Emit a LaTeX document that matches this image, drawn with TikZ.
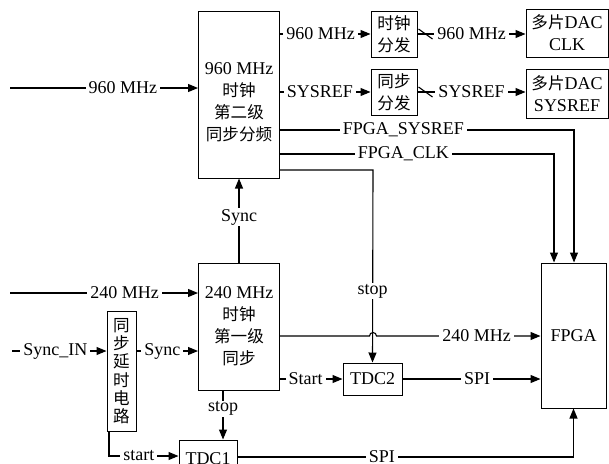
\documentclass[tikz,border=0pt]{standalone}
\usepackage{fontspec}
\setmainfont{Liberation Serif}
\newfontfamily\cjk[Scale=0.92]{Noto Sans CJK SC}
\usetikzlibrary{positioning,arrows.meta}

\begin{document}
\begin{tikzpicture}[x=1pt,y=-1pt,font=\fontsize{18}{22}\selectfont,
  blk/.style={draw,line width=1pt,align=center,inner sep=0pt},
  lbl/.style={fill=white,inner xsep=3pt,inner ysep=1pt},
  arr/.style={-{Triangle[length=10pt,width=8pt]},line width=1.1pt},
  ln/.style={line width=1.1pt}]
\useasboundingbox (0,0) rectangle (609,463);
% blocks
\node[blk,minimum width=81pt,minimum height=167pt,
  label={[align=center,yshift=-8pt]center:960 MHz\\{\cjk 时钟}\\{\cjk 第二级}\\{\cjk 同步分频}}] (div2) at (239,94.5) {};
\node[blk,minimum width=81pt,minimum height=127pt] (sync1) at (239,326.5) {240 MHz\\{\cjk 时钟}\\{\cjk 第一级}\\{\cjk 同步}};
\node[blk,minimum width=46pt,minimum height=46pt] (clkdist) at (394,34) {\cjk 时钟\\\cjk 分发};
\node[blk,minimum width=46pt,minimum height=46pt] (sysdist) at (394,92) {\cjk 同步\\\cjk 分发};
\node[blk,minimum width=82pt,minimum height=48pt] (dacclk) at (567,33) {{\cjk 多片}DAC\\CLK};
\node[blk,minimum width=82pt,minimum height=49pt] (dacsys) at (567,93.5) {{\cjk 多片}DAC\\SYSREF};
\node[blk,minimum width=65pt,minimum height=145pt] (fpga) at (573.5,335.5) {FPGA};
\node[blk,minimum width=59pt,minimum height=32pt] (tdc2) at (372.5,379) {TDC2};
\node[blk,minimum width=58pt,minimum height=38pt] (tdc1) at (208,459) {TDC1};
\node[blk,minimum width=29pt,minimum height=120pt,font=\fontsize{18}{18.3}\selectfont\cjk] (delay) at (121.5,371) {同\\步\\延\\时\\电\\路};
% free ends and bends
\coordinate (in960) at (10,88);
\coordinate (in240) at (10,293);
\coordinate (syncin) at (12,351);
\coordinate (bsys) at (574,130);
\coordinate (bclk) at (554,154);
\coordinate (bstop) at (373,170);
\coordinate (hop) at (373,336);
\coordinate (bstart) at (109,456);
\coordinate (bspi) at (573.5,457);
% inputs
\draw[arr] (in960) -- node[lbl,pos=.6]{960 MHz} (in960 -| div2.west);
\draw[arr] (in240) -- node[lbl,pos=.61]{240 MHz} (in240 -| sync1.west);
\draw[arr] (syncin) -- node[lbl,pos=.46]{Sync\_IN} (syncin -| delay.west);
\draw[arr] (delay.east |- syncin) -- node[lbl,pos=.42]{Sync} (syncin -| sync1.west);
% second stage outputs
\draw[arr] (div2.east |- clkdist) -- node[lbl,pos=.45]{960 MHz} (clkdist.west);
\draw[arr] (clkdist.east) -- node[lbl,pos=.5]{960 MHz} (dacclk.west |- clkdist);
\draw[ln] ([xshift=8pt]clkdist.east) ++(-7pt,5pt) -- ++(14pt,-10pt);
\draw[arr] (div2.east |- sysdist) -- node[lbl,pos=.44]{SYSREF} (sysdist.west);
\draw[arr] (sysdist.east) -- node[lbl,pos=.5]{SYSREF} (dacsys.west |- sysdist);
\draw[ln] ([xshift=8pt]sysdist.east) ++(-7pt,5pt) -- ++(14pt,-10pt);
\draw[arr] (div2.east |- bsys) -- node[lbl,pos=.42]{FPGA\_SYSREF} (bsys) -- (bsys |- fpga.north);
\draw[arr] (div2.east |- bclk) -- node[lbl,pos=.45]{FPGA\_CLK} (bclk) -- (bclk |- fpga.north);
\draw[arr] (div2.east |- bstop) -- (bstop) -- node[lbl,pos=.63]{stop} (tdc2.north);
% first stage
\draw[arr] (sync1.north) -- node[lbl,pos=.54]{Sync} (div2.south);
\draw[arr] (sync1.east |- hop) -- ([xshift=-3.5pt]hop) arc[start angle=180,end angle=0,radius=3.5pt]
  -- node[lbl,pos=.61]{240 MHz} (hop -| fpga.west);
\draw[arr] (sync1.east |- tdc2) -- node[lbl,pos=.41]{Start} (tdc2.west);
\draw[arr] (tdc2.east) -- node[lbl,pos=.54]{SPI} (tdc2 -| fpga.west);
\draw[arr] ([xshift=-16pt]sync1.south) -- node[lbl,pos=.37]{stop} ([xshift=-16pt]sync1.south |- tdc1.north);
\draw[arr] (bstart |- delay.south) -- (bstart) -- node[lbl,pos=.43]{start} (bstart -| tdc1.west);
\draw[arr] (tdc1.east |- bspi) -- node[lbl,pos=.43]{SPI} (bspi) -- (bspi |- fpga.south);
\end{tikzpicture}
\end{document}
